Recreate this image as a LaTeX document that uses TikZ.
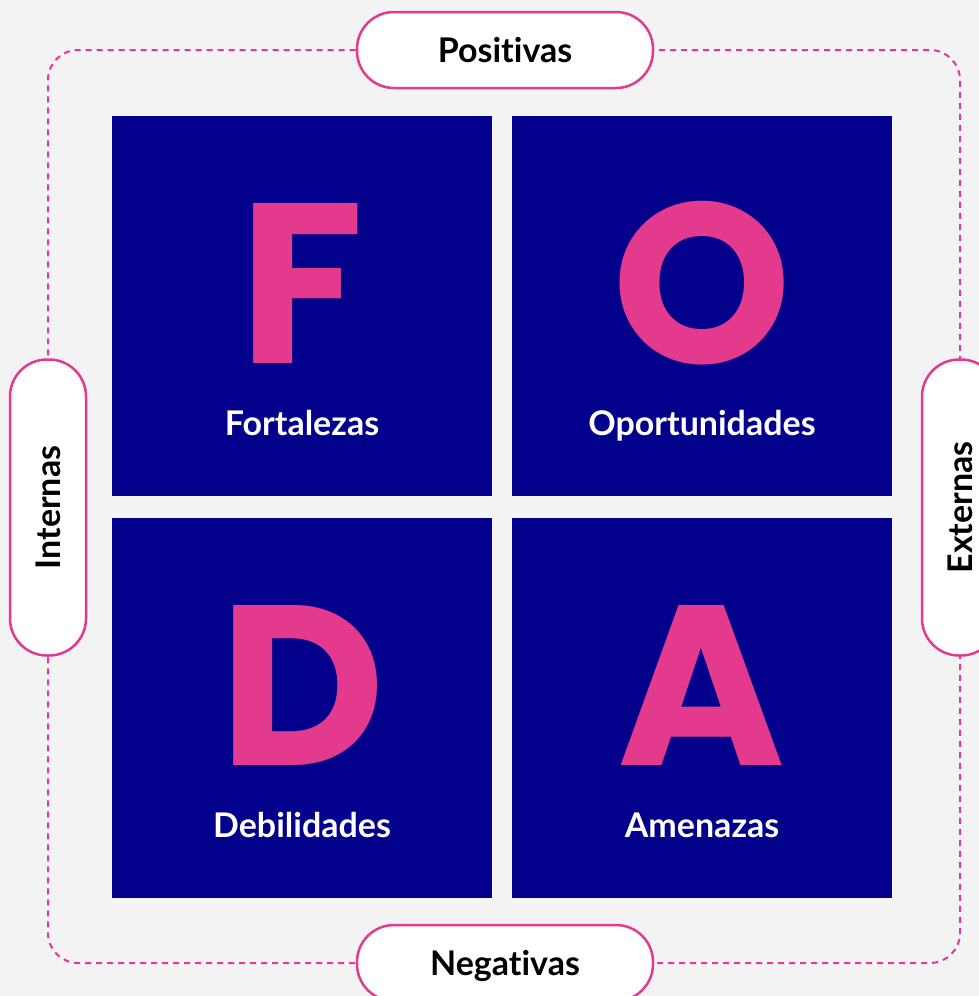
\documentclass[tikz,border=0pt]{standalone}
\usepackage{fontspec}
\setmainfont{Lato}[Ligatures={NoCommon}]
\newfontfamily\letterfont{Poppins}
\usetikzlibrary{backgrounds}
\definecolor{fondo}{HTML}{F3F3F3}
\definecolor{marino}{HTML}{03008B}
\definecolor{rosa}{HTML}{E33A8E}
\tikzset{
  cuadro/.style={fill=marino, minimum size=380pt, inner sep=0pt},
  letra/.style={text=rosa, font=\letterfont\bfseries\fontsize{228}{228}\selectfont, inner sep=0pt, anchor=base, text height=160pt, text depth=0pt},
  etiqueta/.style={text=white, font=\bfseries\fontsize{34}{34}\selectfont, inner sep=0pt, anchor=base, text height=24pt, text depth=0pt},
  pastilla/.style={draw=rosa, line width=2.5pt, fill=white, rounded corners=37pt, minimum width=296pt, minimum height=76pt, inner sep=0pt, font=\bfseries\fontsize{34}{34}\selectfont, text height=24pt, text depth=0pt},
  marco/.style={draw=rosa, line width=2pt, dash pattern=on 6pt off 5pt, rounded corners=30pt}
}
\begin{document}
\begin{tikzpicture}[x=1pt,y=-1pt]
\useasboundingbox (0,0) rectangle (979,996);
\clip (0,0) rectangle (979,996);
% cuadrantes FODA
\foreach \n/\cx/\cy/\txt in {F/302/306/Fortalezas, O/702/306/Oportunidades, D/302/708/Debilidades, A/702/708/Amenazas}
{
    \node[cuadro] (sq\n) at (\cx,\cy) {};
    \node[letra] (let\n) at ([yshift=-57pt]sq\n.center) {\n};
    \node[etiqueta] (lab\n) at ([yshift=-129pt]sq\n.center) {\txt};
}
% pastillas
\node[pastilla] (pos) at (505,50) {Positivas};
\node[pastilla] (neg) at (505,963) {Negativas};
\node[pastilla, rotate=90] (int) at (48,507.5) {Internas};
\node[pastilla, rotate=90] (ext) at (960,507.5) {Externas};
\begin{pgfonlayer}{background}
\fill[fondo] (0,0) rectangle (979,996);
\draw[marco] (pos.center) -| (ext.center) |- (neg.center) -| (int.center) |- (pos.center);
\end{pgfonlayer}
\end{tikzpicture}
\end{document}
